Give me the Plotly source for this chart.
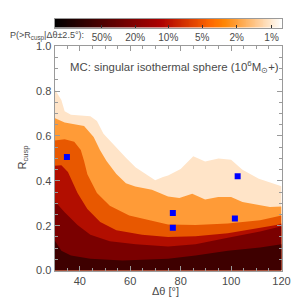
import numpy as np
import plotly.graph_objects as go

# ---- data ----
# contour boundaries (upper edge of each filled probability band)
x_p01 = [30, 32.7, 34, 36.5, 44.2, 46.8, 49.4, 51.9, 54.5, 58.3, 62.2, 66, 69.9, 73, 75, 80, 85, 89.7, 95, 100, 104.5, 111, 115, 120]
y_p01 = [0.81, 0.76, 0.71, 0.695, 0.688, 0.667, 0.61, 0.58, 0.546, 0.503, 0.46, 0.43, 0.403, 0.417, 0.424, 0.453, 0.51, 0.486, 0.50, 0.494, 0.45, 0.41, 0.395, 0.376]

x_p02 = [30, 34, 41.7, 45.5, 48, 50.6, 54.5, 58.3, 62, 68.6, 75, 79.5, 84.6, 89.7, 94.9, 100, 104.5, 110.3, 115.4, 120]
y_p02 = [0.68, 0.66, 0.645, 0.596, 0.538, 0.489, 0.431, 0.389, 0.375, 0.36, 0.33, 0.324, 0.343, 0.317, 0.328, 0.328, 0.306, 0.296, 0.284, 0.286]

x_p05 = [30, 34, 37.8, 40.4, 41.7, 43, 46.8, 51.9, 59.6, 67.3, 75, 85.9, 98.7, 111.5, 118, 120]
y_p05 = [0.58, 0.585, 0.574, 0.538, 0.489, 0.43, 0.346, 0.289, 0.246, 0.224, 0.205, 0.203, 0.21, 0.224, 0.239, 0.246]

x_p10 = [30, 32.7, 35.3, 37, 39.1, 43, 48.1, 54.5, 64.7, 75, 85.9, 98.7, 111.5, 118, 120]
y_p10 = [0.467, 0.47, 0.44, 0.40, 0.346, 0.275, 0.217, 0.18, 0.16, 0.15, 0.153, 0.167, 0.189, 0.203, 0.21]

x_p20 = [30, 34, 39.1, 44.2, 51.9, 62.2, 75, 85.9, 98.7, 111.5, 118, 120]
y_p20 = [0.31, 0.26, 0.203, 0.16, 0.131, 0.117, 0.108, 0.117, 0.146, 0.174, 0.192, 0.198]

x_p50 = [30, 32.7, 36.5, 44.2, 57, 75, 85.9, 98.7, 111.5, 120]
y_p50 = [0.135, 0.089, 0.067, 0.053, 0.045, 0.053, 0.067, 0.089, 0.103, 0.117]

# observed lenses
obs_dtheta = [34.9, 76.9, 76.9, 101.5, 102.6]
obs_rcusp = [0.506, 0.257, 0.191, 0.232, 0.421]

# colour bar labels
cbar_labels = ["50%", "20%", "10%", "5%", "2%", "1%"]
cbar_pos = [0.208, 0.355, 0.501, 0.650, 0.802, 0.956]


def ct3(f):
    i = f * 255.0
    r = min(255, i * 1.45)
    g = max(0.0, min(255, (i - 120) * 1.89))
    b = max(0.0, min(255, (i - 190) * 3.92))
    return "rgb(%d,%d,%d)" % (r, g, b)


bands = [
    (x_p01, y_p01, "rgb(255,228,200)"),
    (x_p02, y_p02, "rgb(255,155,55)"),
    (x_p05, y_p05, "rgb(232,88,0)"),
    (x_p10, y_p10, "rgb(178,14,0)"),
    (x_p20, y_p20, "rgb(122,0,0)"),
    (x_p50, y_p50, "rgb(62,0,0)"),
]

fig = go.Figure()
for bx, by, col in bands:
    fig.add_trace(go.Scatter(x=bx, y=by, mode="lines", line=dict(width=0, color=col),
                             fill="tozeroy", fillcolor=col, hoverinfo="skip",
                             showlegend=False, xaxis="x", yaxis="y"))

fig.add_trace(go.Scatter(x=obs_dtheta, y=obs_rcusp, mode="markers",
                         marker=dict(symbol="square", size=6, color="rgb(0,0,255)",
                                     line=dict(width=0)),
                         showlegend=False, xaxis="x", yaxis="y"))

# colour bar as a heatmap
nc = 256
cb_x = np.linspace(0, 1, nc)
stops = np.linspace(0, 1, 33)
cscale = [[float(s), ct3(s)] for s in stops]
fig.add_trace(go.Heatmap(z=[list(cb_x)], x=list(cb_x), y=[0], colorscale=cscale,
                         showscale=False, hoverinfo="skip", xaxis="x2", yaxis="y2"))

font = "Liberation Sans, Arial, sans-serif"
tc = "#4a4a4a"
axc = "#9a9a9a"

fig.update_layout(
    width=300, height=300,
    margin=dict(l=0, r=0, t=0, b=0),
    paper_bgcolor="white", plot_bgcolor="white",
    font=dict(family=font, size=11, color=tc),
    xaxis=dict(domain=[0.16, 0.94], range=[30, 120], dtick=20, tick0=40,
               ticks="inside", ticklen=5, tickcolor=axc, showline=True, linecolor=axc,
               mirror="ticks", showgrid=False, zeroline=False,
               tickfont=dict(size=11, color=tc),
               minor=dict(dtick=5, ticks="inside", ticklen=3, tickcolor=axc)),
    yaxis=dict(domain=[0.109, 0.888], range=[0, 1.0], dtick=0.2, tickformat=".1f",
               ticks="inside", ticklen=5, tickcolor=axc, showline=True, linecolor=axc,
               mirror="ticks", showgrid=False, zeroline=False,
               tickfont=dict(size=11, color=tc),
               minor=dict(dtick=0.05, ticks="inside", ticklen=3, tickcolor=axc)),
    xaxis2=dict(domain=[0.16, 0.94], range=[0, 1], anchor="y2",
                tickvals=cbar_pos, ticktext=cbar_labels, ticks="inside", ticklen=3,
                tickcolor="#333333", showline=True, linecolor=axc, mirror=True,
                showgrid=False, zeroline=False, tickfont=dict(size=10, color=tc)),
    yaxis2=dict(domain=[0.953, 0.983], range=[-0.5, 0.5], anchor="x2",
                showticklabels=False, ticks="", showline=True, linecolor=axc,
                mirror=True, showgrid=False, zeroline=False),
    annotations=[
        dict(text="P(>R<sub>cusp</sub>|Δθ±2.5°):", x=0.0, y=1 - 23 / 300, xref="paper", yref="paper",
             showarrow=False, xanchor="left", yanchor="middle", font=dict(size=9, color=tc)),
        dict(text="MC: singular isothermal sphere (10<sup>6</sup>M<sub>⊙</sub>+)",
             x=0.937, y=0.817, xref="paper", yref="paper", showarrow=False,
             xanchor="right", yanchor="middle", font=dict(size=11.4, color=tc)),
        dict(text="Δθ [°]", x=0.54, y=0.037, xref="paper", yref="paper",
             showarrow=False, xanchor="center", yanchor="middle", font=dict(size=11, color=tc)),
        dict(text="R<sub>cusp</sub>", x=0.05, y=0.5, xref="paper", yref="paper",
             showarrow=False, xanchor="center", yanchor="middle", textangle=-90,
             font=dict(size=11, color=tc)),
    ],
)

fig.write_html("out.html")
